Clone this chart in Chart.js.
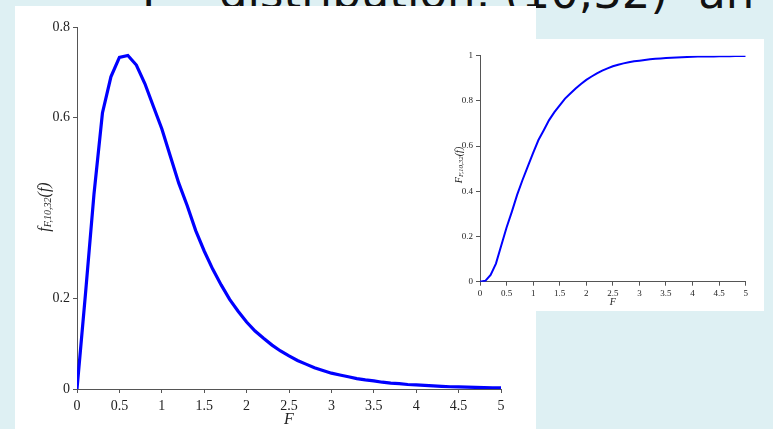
<!DOCTYPE html>
<html>
<head>
<meta charset="utf-8">
<script src="https://cdn.jsdelivr.net/npm/chart.js@4"></script>
<style>
  html, body { margin: 0; padding: 0; }
  body { width: 773px; height: 429px; overflow: hidden; background: #def0f3; position: relative; }
  #title { position: absolute; left: 142px; top: -30px; font: 45px "DejaVu Sans"; line-height: 46px; color: #111; white-space: nowrap; }
  #title span { margin-left: 16px; }
  .panel { position: absolute; background: #fff; }
  #mainPanel { left: 15px; top: 6px; width: 521px; height: 423px; }
  #insetPanel { left: 440px; top: 39px; width: 324px; height: 272px; }
</style>
</head>
<body>
<div id="title">F – distribution, (10,32) <span>an</span></div>
<div class="panel" id="mainPanel"><canvas id="myChart" width="521" height="423"></canvas></div>
<div class="panel" id="insetPanel"><canvas id="myChart2" width="324" height="272"></canvas></div>
<script>
// valores
const fValues = [0, 0.1, 0.2, 0.3, 0.4, 0.5, 0.6, 0.7, 0.8, 0.9, 1.0,
  1.1, 1.2, 1.3, 1.4, 1.5, 1.6, 1.7, 1.8, 1.9, 2.0,
  2.1, 2.2, 2.3, 2.4, 2.5, 2.6, 2.7, 2.8, 2.9, 3.0,
  3.1, 3.2, 3.3, 3.4, 3.5, 3.6, 3.7, 3.8, 3.9, 4.0,
  4.1, 4.2, 4.3, 4.4, 4.5, 4.6, 4.7, 4.8, 4.9, 5.0];

const pdfValues = [0, 0.21, 0.43, 0.61, 0.69, 0.733, 0.737, 0.716, 0.675, 0.625, 0.575,
  0.515, 0.455, 0.405, 0.350, 0.305, 0.265, 0.230, 0.198, 0.172, 0.148,
  0.128, 0.112, 0.097, 0.084, 0.073, 0.063, 0.055, 0.047, 0.041, 0.035,
  0.031, 0.027, 0.023, 0.020, 0.018, 0.015, 0.013, 0.012, 0.010, 0.009,
  0.008, 0.007, 0.006, 0.005, 0.0045, 0.004, 0.0035, 0.003, 0.0027, 0.0024];

const cdfValues = [0, 0.004, 0.03, 0.08, 0.16, 0.24, 0.31, 0.385, 0.45, 0.51, 0.57,
  0.627, 0.67, 0.715, 0.75, 0.78, 0.81, 0.833, 0.855, 0.875, 0.893,
  0.908, 0.922, 0.934, 0.944, 0.953, 0.96, 0.966, 0.971, 0.975, 0.978,
  0.981, 0.984, 0.986, 0.988, 0.990, 0.991, 0.992, 0.993, 0.994, 0.995,
  0.996, 0.996, 0.997, 0.997, 0.998, 0.998, 0.998, 0.999, 0.999, 0.999];

const mainYTicks = [0, 0.2, 0.6, 0.8];
const insetYTicks = [0, 0.2, 0.4, 0.6, 0.8, 1];
const xTicks = [0, 0.5, 1, 1.5, 2, 2.5, 3, 3.5, 4, 4.5, 5];

const serif = '"Liberation Serif", "DejaVu Serif", serif';

function points(ys) {
  return fValues.map(function (x, i) { return { x: x, y: ys[i] }; });
}

// desenha texto com subscrito (titulos dos eixos)
function drawParts(ctx, cx, cy, parts, rotate) {
  ctx.save();
  ctx.translate(cx, cy);
  if (rotate) ctx.rotate(-Math.PI / 2);
  let total = 0;
  parts.forEach(function (p) { ctx.font = p.font; p.w = ctx.measureText(p.t).width; total += p.w; });
  let x = -total / 2;
  ctx.fillStyle = '#222';
  ctx.textBaseline = 'middle';
  ctx.textAlign = 'left';
  parts.forEach(function (p) { ctx.font = p.font; ctx.fillText(p.t, x, p.dy); x += p.w; });
  ctx.restore();
}

function titlesPlugin(opts) {
  return {
    id: 'axisTitles',
    afterDraw: function (chart) {
      const ctx = chart.ctx;
      const xs = chart.scales.x;
      drawParts(ctx, xs.getPixelForValue(2.5), chart.chartArea.bottom + opts.xTitleOffset,
        [{ t: 'F', font: 'italic ' + opts.big + 'px ' + serif, dy: 0 }], false);
      drawParts(ctx, opts.yTitleX, opts.yTitleY, [
        { t: opts.yLetter, font: 'italic ' + opts.big + 'px ' + serif, dy: 0 },
        { t: 'F,10,32', font: 'italic ' + opts.small + 'px ' + serif, dy: opts.subDy },
        { t: '(f)', font: 'italic ' + opts.big + 'px ' + serif, dy: 0 }
      ], true);
    }
  };
}

function makeScales(yMax, yTicks, fontSize, yWidth, xHeight, tickPad) {
  return {
    x: {
      type: 'linear', min: 0, max: 5,
      afterBuildTicks: function (s) { s.ticks = xTicks.map(function (v) { return { value: v }; }); },
      afterFit: function (s) { s.height = xHeight; },
      grid: { drawOnChartArea: false, drawTicks: true, tickLength: 4, color: '#555' },
      border: { color: '#555', width: 1 },
      ticks: { color: '#222', font: { family: serif, size: fontSize }, padding: tickPad, maxRotation: 0,
        callback: function (v) { return String(v); } }
    },
    y: {
      type: 'linear', min: 0, max: yMax,
      afterBuildTicks: function (s) { s.ticks = yTicks.map(function (v) { return { value: v }; }); },
      afterFit: function (s) { s.width = yWidth; },
      grid: { drawOnChartArea: false, drawTicks: true, tickLength: 4, color: '#555' },
      border: { color: '#555', width: 1 },
      ticks: { color: '#222', font: { family: serif, size: fontSize }, padding: 3,
        callback: function (v) { return String(v); } }
    }
  };
}

// grafico 1 - densidade

const ctx = document.getElementById('myChart').getContext('2d');

const config = {
  type: 'line',
  data: {
    datasets: [{
      data: points(pdfValues),
      borderColor: '#0000ff',
      borderWidth: 3.2,
      pointRadius: 0,
      tension: 0,
      fill: false
    }]
  },
  options: {
    responsive: false,
    animation: false,
    layout: { padding: { top: 21, right: 35, bottom: 0, left: 0 } },
    plugins: { legend: { display: false }, tooltip: { enabled: false } },
    scales: makeScales(0.8, mainYTicks, 14, 62, 40, 5)
  },
  plugins: [titlesPlugin({ xTitleOffset: 31, yTitleX: 30, yTitleY: 201, yLetter: 'f', big: 16, small: 10, subDy: 3 })]
};

const myChart = new Chart(ctx, config);

// grafico 2 - acumulada

const ctx2 = document.getElementById('myChart2').getContext('2d');

const config2 = {
  type: 'line',
  data: {
    datasets: [{
      data: points(cdfValues),
      borderColor: '#0000ff',
      borderWidth: 2,
      pointRadius: 0,
      tension: 0,
      fill: false
    }]
  },
  options: {
    responsive: false,
    animation: false,
    layout: { padding: { top: 16.7, right: 18.3, bottom: 0, left: 0 } },
    plugins: { legend: { display: false }, tooltip: { enabled: false } },
    scales: makeScales(1, insetYTicks, 9, 40, 29.3, 3)
  },
  plugins: [titlesPlugin({ xTitleOffset: 21, yTitleX: 19, yTitleY: 126, yLetter: 'F', big: 10, small: 7, subDy: 2 })]
};

const myChart2 = new Chart(ctx2, config2);
</script>
</body>
</html>
